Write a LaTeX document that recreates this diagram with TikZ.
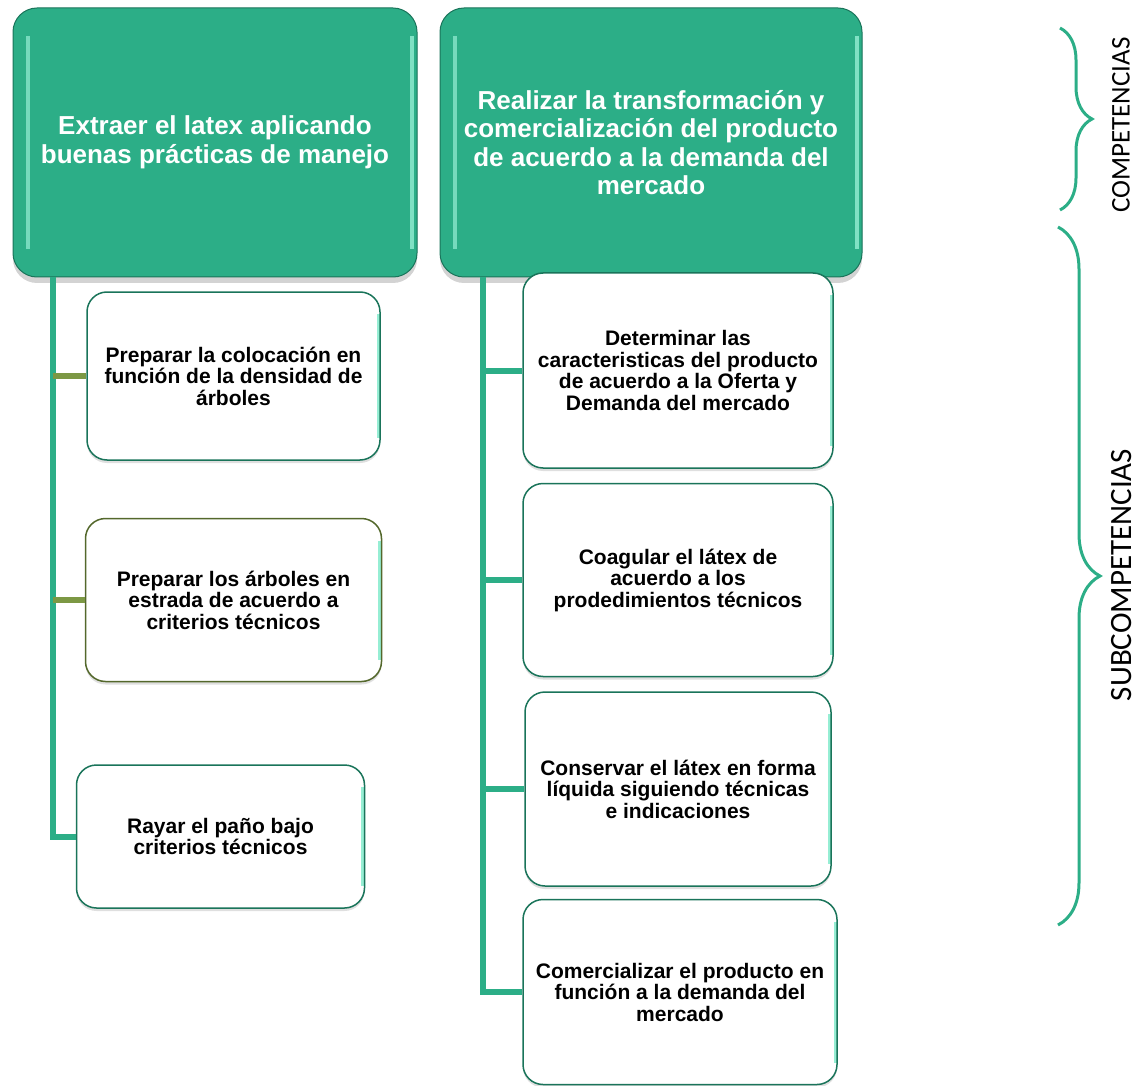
\documentclass[tikz,border=0pt]{standalone}
\usepackage{fontspec}
\setmainfont{Liberation Sans}
\newfontfamily\llavefont{Carlito}
\usepackage{tikz}
\usetikzlibrary{positioning,calc,shadows,decorations.pathreplacing}
\definecolor{verde}{RGB}{44,174,135}
\definecolor{verdeosc}{RGB}{26,116,90}
\definecolor{menta}{RGB}{150,238,212}
\definecolor{oliva}{RGB}{124,152,68}
\definecolor{olivaosc}{RGB}{84,104,44}
\tikzset{
    %Define style for competence boxes
    comp/.style={
           rectangle,
           rounded corners=24pt,
           draw=verdeosc, line width=1pt,
           fill=verde,
           text=white,
           font=\bfseries\fontsize{26}{28.5}\selectfont,
           align=center,
           drop shadow={shadow xshift=0pt, shadow yshift=-6pt, opacity=0.35},
           path picture={
             \draw[menta, line width=4pt, opacity=0.7]
               ($(path picture bounding box.north west)+(15,28)$) --
               ($(path picture bounding box.south west)+(15,-28)$);
             \draw[menta, line width=4pt, opacity=0.8]
               ($(path picture bounding box.north east)+(-5,28)$) --
               ($(path picture bounding box.south east)+(-5,-28)$);
           }},
    %Define style for subcompetence boxes
    sub/.style={
           rectangle,
           rounded corners=20pt,
           draw=verdeosc, line width=1.5pt,
           fill=white,
           text=black,
           font=\bfseries\fontsize{21}{21.5}\selectfont,
           align=center,
           drop shadow={shadow xshift=0pt, shadow yshift=-3pt, opacity=0.25},
           path picture={
             \draw[menta, line width=3pt]
               ($(path picture bounding box.north east)+(-2,22)$) --
               ($(path picture bounding box.south east)+(-2,-22)$);
           }},
    % Define line styles
    tronco/.style={draw=verde, line width=6pt},
    rama/.style={draw=oliva, line width=6pt},
    llave/.style={decorate, decoration={brace, amplitude=#1},
           draw=verde, line width=3pt},
    rotulo/.style={font=\llavefont\fontsize{#1}{30}\selectfont, rotate=90}
}
\begin{document}
\begin{tikzpicture}[x=1pt,y=-1pt]
\useasboundingbox (0,0) rectangle (1141,1086);
 %competencias
\node[comp, minimum width=404pt, minimum height=269pt](c1) at (215,142.5)
  {Extraer el latex aplicando\\buenas prácticas de manejo};
\node[comp, minimum width=422pt, minimum height=269pt](c2) at (651,142.5)
  {Realizar la transformación y\\comercialización del producto\\de acuerdo a la demanda del\\mercado};
 %subcompetencias izquierda
\node[sub, minimum width=293pt, minimum height=168pt](s1) at (233.5,376)
  {Preparar la colocación en\\función de la densidad de\\árboles};
\node[sub, draw=olivaosc, minimum width=296pt, minimum height=163pt, below=57pt of s1](s2)
  {Preparar los árboles en\\estrada de acuerdo a\\criterios técnicos};
\node[sub, minimum width=288pt, minimum height=143pt, below=82pt of s2, xshift=-13pt](s3)
  {Rayar el paño bajo\\criterios técnicos};
 %subcompetencias derecha
\node[sub, minimum width=310pt, minimum height=195pt](r1) at (678,370.5)
  {Determinar las\\caracteristicas del producto\\de acuerdo a la Oferta y\\Demanda del mercado};
\node[sub, minimum width=310pt, minimum height=193pt, below=14pt of r1](r2)
  {Coagular el látex de\\acuerdo a los\\prodedimientos técnicos};
\node[sub, minimum width=306pt, minimum height=194pt, below=14pt of r2](r3)
  {Conservar el látex en forma\\líquida siguiendo técnicas\\e indicaciones};
\node[sub, minimum width=314pt, minimum height=185pt, below=12pt of r3, xshift=2pt](r4)
  {Comercializar el producto en\\función a la demanda del\\mercado};
 %lineas
\coordinate (tl) at ($(c1.south west)+(40,0)$);
\coordinate (tr) at ($(c2.south west)+(43,0)$);
\draw[tronco] (tl) |- (s3.west);
\draw[rama] (tl |- s1.west) -- (s1.west);
\draw[rama] (tl |- s2.west) -- (s2.west);
\draw[tronco] (tr) |- (r4.west);
\foreach \n in {r1,r2,r3}
  \draw[tronco] (tr |- \n.west) -- (\n.west);
 %llaves
\draw[llave=32pt] (1060,28) -- (1060,210);
\draw[llave=42pt] (1058,227) -- (1058,925);
\node[rotulo=27](t1) at (1121,125){COMPETENCIAS};
\node[rotulo=31](t2) at (1122,575){SUBCOMPETENCIAS};
\end{tikzpicture}
\end{document}
